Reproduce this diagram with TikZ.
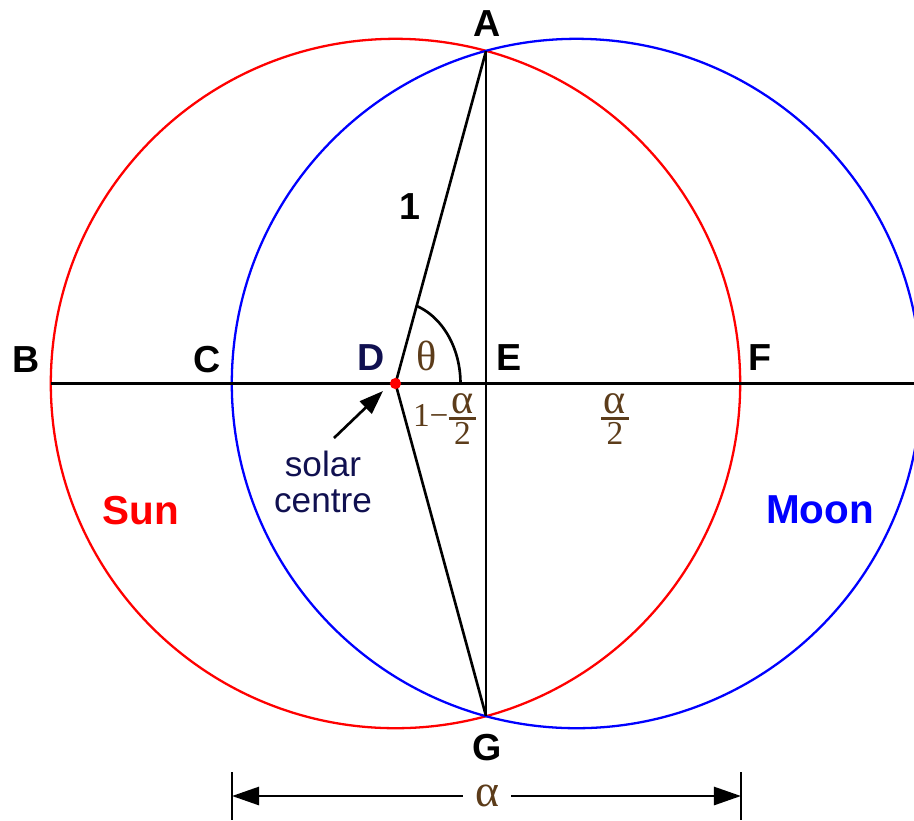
\documentclass[tikz,border=0pt]{standalone}
\usepackage{fontspec}
\usepackage{amsmath}
\setmainfont{Liberation Sans}
\newfontfamily\grk{Liberation Serif}
\usetikzlibrary{arrows.meta}
\definecolor{mathbrown}{RGB}{92,60,26}
\definecolor{darknavy}{RGB}{16,16,80}
\newcommand{\halfalpha}{\setlength{\nulldelimiterspace}{0pt}\genfrac{}{}{0.8pt}{1}{\mbox{\fontsize{12}{12}\selectfont\hspace{0.8pt}α\hspace{0.8pt}}}{\mbox{2}}}

\begin{document}
\begin{tikzpicture}[x=0.01cm, y=-0.01cm,
    pt/.style={font=\fontsize{10.7}{13}\selectfont\bfseries},
    body/.style={font=\fontsize{11.5}{14}\selectfont\bfseries},
    greek/.style={text=mathbrown, font=\grk\fontsize{9.5}{12}\selectfont},
    solid tip/.style={-{Triangle[length=2.4mm,width=1.7mm]}}]
  \useasboundingbox (0,0) rectangle (914,820);
  \clip (0,0) rectangle (914,820);
  % the two discs
  \coordinate (D) at (395.5,383.5);
  \coordinate (M) at (576.5,383.5);
  \draw[red, line width=0.65pt] (D) circle[radius=3.445cm];
  \draw[blue, line width=0.65pt] (M) circle[radius=3.445cm];
  % points on the figure
  \coordinate (A) at (486,51.1);
  \coordinate (G) at (486,715.9);
  \coordinate (E) at (486,383.5);
  \coordinate (B) at (51,383.5);
  \coordinate (Hend) at (914,383.5);
  \draw[line width=0.75pt] (B) -- (Hend);
  \draw[line width=0.75pt] (A) -- (G);
  \draw[line width=0.75pt] (A) -- (D) -- (G);
  % angle theta
  \draw[line width=0.75pt] plot[domain=0:71.1, samples=40] ({395.5+65*cos(\x)},{383.5-82*sin(\x)});
  \fill[red] (D) circle[radius=1.6pt];
  % letters
  \node[pt] (lA) at (487,24) {A};
  \node[pt] (lB) at (26,360) {B};
  \node[pt] (lC) at (207,360) {C};
  \node[pt, text=darknavy] (lD) at (371,358) {D};
  \node[pt] (lE) at (509,358) {E};
  \node[pt] (lF) at (760,358) {F};
  \node[pt] (lG) at (487,748) {G};
  \node[pt] (one) at (410,207) {1};
  \node[body, text=red] (sun) at (141,511) {Sun};
  \node[body, text=blue] (moon) at (820,510) {Moon};
  \node[text=mathbrown, font=\grk\fontsize{12}{14}\selectfont] (theta) at (427,356) {θ};
  \node[greek, inner sep=0pt, anchor=east] (half1) at (477,419) {1−$\halfalpha$};
  \node[greek, inner sep=0pt] (half2) at (615,419) {$\halfalpha$};
  % solar centre pointer
  \node[align=center, text=darknavy, font=\fontsize{10}{10}\selectfont] (solar) at (323,482) {solar\\centre};
  \coordinate (tail) at (334,438);
  \coordinate (tip) at (383,391);
  \draw[line width=0.75pt, solid tip] (tail) -- (tip);
  % width of the overlap
  \coordinate (L1) at (232,772);
  \coordinate (L2) at (232,820);
  \coordinate (R1) at (741,772);
  \coordinate (R2) at (741,820);
  \draw[line width=0.75pt] (L1) -- (L2);
  \draw[line width=0.75pt] (R1) -- (R2);
  \coordinate (dl) at (232,796);
  \coordinate (dr) at (741,796);
  \draw[line width=0.75pt, {Triangle[length=2.7mm,width=1.8mm]}-{Triangle[length=2.7mm,width=1.8mm]}] (dl) -- (dr);
  \node[fill=white, text=mathbrown, font=\grk\fontsize{13}{15}\selectfont, inner xsep=3.5pt] (alpha) at (487,796) {α};
\end{tikzpicture}
\end{document}
